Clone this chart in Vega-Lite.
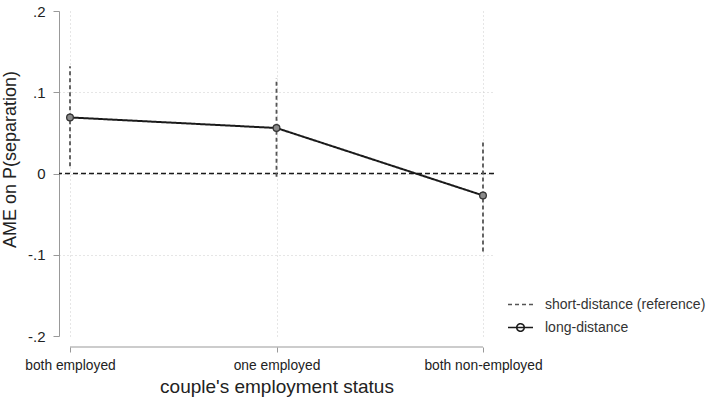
{
  "$schema": "https://vega.github.io/schema/vega-lite/v6.json",
  "width": 435,
  "height": 325,
  "autosize": {"type": "none"},
  "padding": {"left": 59, "top": 11, "right": 214, "bottom": 70},
  "background": "white",
  "config": {"view": {"stroke": null}, "font": "Liberation Sans"},
  "data": {"values": [
    {"status": "both employed", "ame": 0.069, "lo": 0.009, "hi": 0.132},
    {"status": "one employed", "ame": 0.056, "lo": -0.004, "hi": 0.117},
    {"status": "both non-employed", "ame": -0.027, "lo": -0.096, "hi": 0.042}
  ]},
  "layer": [
    {
      "mark": {"type": "rule", "stroke": "#999999", "strokeWidth": 1, "yOffset": 11},
      "data": {"values": [{}]},
      "encoding": {
        "x": {"datum": "both employed", "type": "nominal"},
        "x2": {"datum": "both non-employed"},
        "y": {"datum": -0.2, "type": "quantitative"}
      }
    },
    {
      "mark": {"type": "rule", "stroke": "#1a1a1a", "strokeWidth": 1.5, "strokeDash": [5, 3]},
      "data": {"values": [{}]},
      "encoding": {"y": {"datum": 0, "type": "quantitative"}}
    },
    {
      "mark": {"type": "rule", "strokeWidth": 1.8},
      "encoding": {
        "x": {
          "field": "status", "type": "nominal",
          "scale": {"type": "point", "domain": ["both employed", "one employed", "both non-employed"], "padding": 0.0533},
          "axis": {
            "orient": "bottom", "offset": 11, "domain": false, "labelAngle": 0, "labelAlign": "center", "labelFlush": false, "labelLimit": 0,
            "tickColor": "#999999", "tickSize": 5, "labelFontSize": 13.8, "labelColor": "#222222", "labelPadding": 13,
            "grid": true, "gridDash": [1, 3], "gridColor": "#cccccc",
            "title": "couple's employment status", "titleFontSize": 19, "titleFontWeight": "normal", "titleColor": "#222222",
            "titleY": 39, "titleBaseline": "middle"
          }
        },
        "y": {
          "field": "lo", "type": "quantitative",
          "scale": {"domain": [-0.2, 0.2], "nice": false, "zero": false},
          "axis": {
            "values": [-0.2, -0.1, 0, 0.1, 0.2],
            "labelExpr": "datum.value == 0 ? '0' : (datum.value < 0 ? '-' : '') + replace(format(abs(datum.value), '.1f'), '0.', '.')",
            "domainColor": "#999999", "tickColor": "#999999", "tickSize": 6,
            "labelFontSize": 15, "labelColor": "#222222", "labelPadding": 8,
            "grid": true, "gridDash": [1, 3], "gridColor": "#cccccc",
            "gridOpacity": {"expr": "abs(datum.value) > 0.15 ? 0 : 1"},
            "title": "AME on P(separation)", "titleFontSize": 18, "titleFontWeight": "normal", "titleColor": "#222222",
            "titleX": -49, "titleY": 148, "titleAngle": -90, "titleAlign": "center", "titleBaseline": "middle"
          }
        },
        "y2": {"field": "hi"},
        "color": {
          "datum": "short-distance (reference)", "type": "nominal",
          "scale": {"domain": ["short-distance (reference)", "long-distance"], "range": ["#555555", "#1a1a1a"]},
          "legend": {
            "orient": "none", "legendX": 448, "legendY": 280, "title": null,
            "symbolType": "stroke", "symbolSize": 625, "symbolStrokeWidth": 1.6,
            "labelFontSize": 14, "labelColor": "#333333", "labelOffset": 11, "labelLimit": 0, "rowPadding": 2,
            "encode": {"symbols": {"update": {
              "shape": {"signal": "datum.value === 'long-distance' ? 'M-1,0H1M-0.3,0A0.3,0.3,0,1,0,0.3,0A0.3,0.3,0,1,0,-0.3,0' : 'stroke'"}
            }}}
          }
        },
        "strokeDash": {
          "datum": "short-distance (reference)", "type": "nominal",
          "scale": {"domain": ["short-distance (reference)", "long-distance"], "range": [[4, 3], [1, 0]]},
          "legend": {
            "orient": "none", "legendX": 448, "legendY": 280, "title": null,
            "symbolType": "stroke", "symbolSize": 625, "symbolStrokeWidth": 1.6,
            "labelFontSize": 14, "labelColor": "#333333", "labelOffset": 11, "labelLimit": 0, "rowPadding": 2,
            "encode": {"symbols": {"update": {
              "shape": {"signal": "datum.value === 'long-distance' ? 'M-1,0H1M-0.3,0A0.3,0.3,0,1,0,0.3,0A0.3,0.3,0,1,0,-0.3,0' : 'stroke'"}
            }}}
          }
        }
      }
    },
    {
      "mark": {"type": "line", "strokeWidth": 2},
      "encoding": {
        "x": {"field": "status", "type": "nominal"},
        "y": {"field": "ame", "type": "quantitative"},
        "color": {"datum": "long-distance", "type": "nominal"},
        "strokeDash": {"datum": "long-distance", "type": "nominal"}
      }
    },
    {
      "mark": {"type": "point", "shape": "circle", "filled": true, "fill": "#8a8a8a", "stroke": "#333333", "strokeWidth": 1.3, "size": 45, "opacity": 1},
      "encoding": {
        "x": {"field": "status", "type": "nominal"},
        "y": {"field": "ame", "type": "quantitative"}
      }
    }
  ]
}
